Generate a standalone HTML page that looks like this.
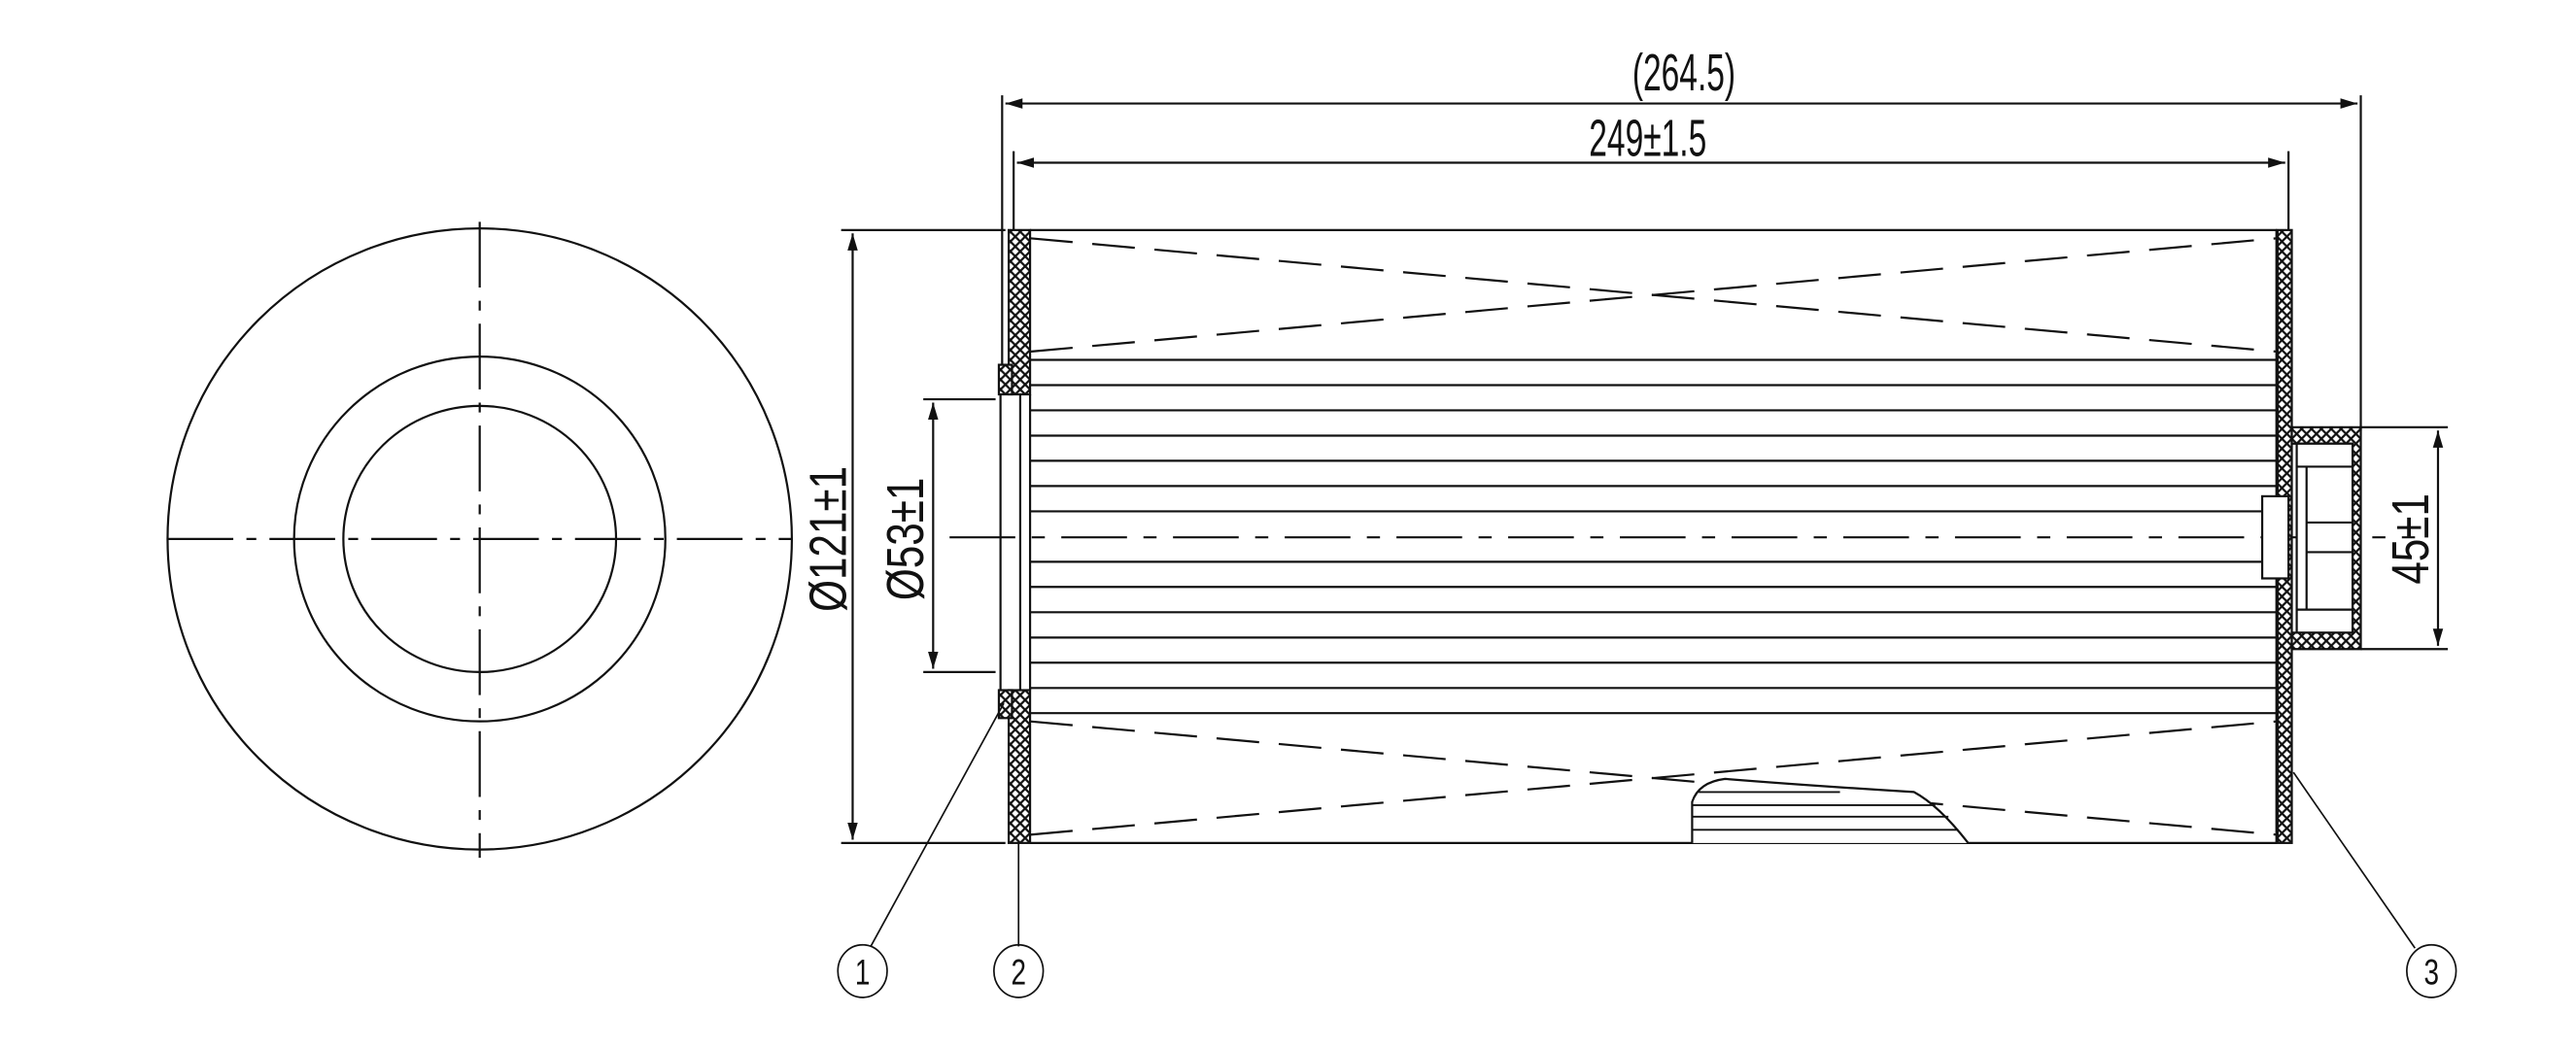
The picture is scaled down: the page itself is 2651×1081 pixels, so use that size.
<!DOCTYPE html>
<html><head><meta charset="utf-8"><style>
html,body{margin:0;padding:0;background:#fff;}
svg{display:block;}
text{font-family:"Liberation Sans",sans-serif;fill:#111;}
</style></head><body>
<svg width="2651" height="1081" viewBox="0 0 1568 639" preserveAspectRatio="none" xmlns="http://www.w3.org/2000/svg">
<defs>
<pattern id="h" width="6" height="6" patternUnits="userSpaceOnUse">
<rect width="6" height="6" fill="#fff"/>
<path d="M0 0L6 6M6 0L0 6" stroke="#111" stroke-width="1.3"/>
</pattern>
<marker id="a" viewBox="0 0 10 10" refX="10" refY="5" markerWidth="8" markerHeight="8" orient="auto-start-reverse"><path d="M0 2L10 5L0 8z" fill="#111"/></marker>
</defs>
<g fill="none" stroke="#111" stroke-width="1.3">
<ellipse cx="292" cy="328" rx="190" ry="189"/>
<ellipse cx="292" cy="328" rx="113" ry="111"/>
<ellipse cx="292" cy="328" rx="83" ry="81"/>
<line x1="292" y1="135" x2="292" y2="522" stroke-dasharray="40,8,6,8"/>
<line x1="102" y1="328" x2="482" y2="328" stroke-dasharray="40,8,6,8"/>

<line x1="610" y1="58" x2="610" y2="232"/>
<line x1="1437" y1="58" x2="1437" y2="262"/>
<line x1="612" y1="63" x2="1435" y2="63" marker-start="url(#a)" marker-end="url(#a)"/>
<line x1="617" y1="92" x2="617" y2="140"/>
<line x1="1393" y1="92" x2="1393" y2="140"/>
<line x1="619" y1="99" x2="1391" y2="99" marker-start="url(#a)" marker-end="url(#a)"/>

<line x1="627" y1="140" x2="1386" y2="140"/>
<line x1="627" y1="219" x2="1386" y2="219"/>
<line x1="627" y1="434" x2="1386" y2="434"/>
<line x1="627" y1="513" x2="1386" y2="513"/>
<g stroke-dasharray="26,12">
<line x1="627" y1="145" x2="1386" y2="214"/>
<line x1="627" y1="214" x2="1386" y2="145"/>
<line x1="627" y1="439" x2="1386" y2="508"/>
<line x1="627" y1="508" x2="1386" y2="439"/>
</g>
<g>
<line x1="627" y1="234.4" x2="1386" y2="234.4"/>
<line x1="627" y1="249.7" x2="1386" y2="249.7"/>
<line x1="627" y1="265.1" x2="1386" y2="265.1"/>
<line x1="627" y1="280.4" x2="1386" y2="280.4"/>
<line x1="627" y1="295.8" x2="1386" y2="295.8"/>
<line x1="627" y1="311.2" x2="1386" y2="311.2"/>
<line x1="627" y1="341.9" x2="1386" y2="341.9"/>
<line x1="627" y1="357.2" x2="1386" y2="357.2"/>
<line x1="627" y1="372.6" x2="1386" y2="372.6"/>
<line x1="627" y1="388" x2="1386" y2="388"/>
<line x1="627" y1="403.3" x2="1386" y2="403.3"/>
<line x1="627" y1="418.7" x2="1386" y2="418.7"/>
</g>
<line x1="578" y1="327" x2="1470" y2="327" stroke-dasharray="40,10,8,10"/>

<path d="M1030 513 L1030 488 Q1034 476 1050 474 Q1100 478 1165 482 Q1180 490 1198 513" fill="#fff"/>
<g stroke-width="1.1"><line x1="1034" y1="482" x2="1120" y2="482"/><line x1="1030" y1="490" x2="1178" y2="490"/><line x1="1030" y1="497" x2="1186" y2="497"/><line x1="1030" y1="505" x2="1192" y2="505"/></g>

<rect x="614" y="140" width="13" height="100" fill="url(#h)"/>
<rect x="614" y="420" width="13" height="93" fill="url(#h)"/>
<rect x="608" y="222" width="8" height="18" fill="url(#h)"/>
<rect x="608" y="420" width="8" height="17" fill="url(#h)"/>
<line x1="609" y1="240" x2="609" y2="420"/>
<line x1="621" y1="240" x2="621" y2="420"/>
<line x1="627" y1="240" x2="627" y2="420"/>

<rect x="1386" y="140" width="9" height="373" fill="url(#h)"/>
<line x1="1386" y1="140" x2="1386" y2="513" stroke-width="2"/>
<path d="M1395 260 L1437 260 L1437 395 L1395 395 L1395 385 L1432 385 L1432 270 L1395 270z" fill="url(#h)"/>
<rect x="1398" y="270" width="34" height="115" fill="#fff"/>
<line x1="1398" y1="284" x2="1432" y2="284"/>
<line x1="1398" y1="371" x2="1432" y2="371"/>
<line x1="1404" y1="284" x2="1404" y2="371"/>
<line x1="1404" y1="318" x2="1432" y2="318"/>
<line x1="1404" y1="336" x2="1432" y2="336"/>
<rect x="1377" y="302" width="16" height="50" fill="#fff"/>

<line x1="512" y1="140" x2="612" y2="140"/>
<line x1="512" y1="513" x2="612" y2="513"/>
<line x1="519" y1="142" x2="519" y2="511" marker-start="url(#a)" marker-end="url(#a)"/>
<line x1="562" y1="243" x2="606" y2="243"/>
<line x1="562" y1="409" x2="606" y2="409"/>
<line x1="568" y1="245" x2="568" y2="407" marker-start="url(#a)" marker-end="url(#a)"/>
<line x1="1437" y1="260" x2="1490" y2="260"/>
<line x1="1437" y1="395" x2="1490" y2="395"/>
<line x1="1484" y1="262" x2="1484" y2="393" marker-start="url(#a)" marker-end="url(#a)"/>

<line x1="611" y1="428" x2="530" y2="576" stroke-width="1"/>
<line x1="620" y1="513" x2="620" y2="576" stroke-width="1"/>
<line x1="1396" y1="470" x2="1470" y2="577" stroke-width="1"/>
<ellipse cx="525" cy="591" rx="15" ry="16" stroke-width="1"/>
<ellipse cx="620" cy="591" rx="15" ry="16" stroke-width="1"/>
<ellipse cx="1480" cy="591" rx="15" ry="16" stroke-width="1"/>
</g>
<g font-size="32">
<text transform="translate(1025 55) scale(0.62 1)" text-anchor="middle">(264.5)</text>
<text transform="translate(1003 95) scale(0.62 1)" text-anchor="middle">249±1.5</text>
<text transform="translate(515 328) rotate(-90) scale(0.78 1)" text-anchor="middle">Ø121±1</text>
<text transform="translate(562 328) rotate(-90) scale(0.78 1)" text-anchor="middle">Ø53±1</text>
<text transform="translate(1478 328) rotate(-90) scale(0.78 1)" text-anchor="middle">45±1</text>
</g>
<g font-size="22" text-anchor="middle">
<text transform="translate(525 599) scale(0.75 1)">1</text><text transform="translate(620 599) scale(0.75 1)">2</text><text transform="translate(1480 599) scale(0.75 1)">3</text>
</g>
</svg>
</body></html>
